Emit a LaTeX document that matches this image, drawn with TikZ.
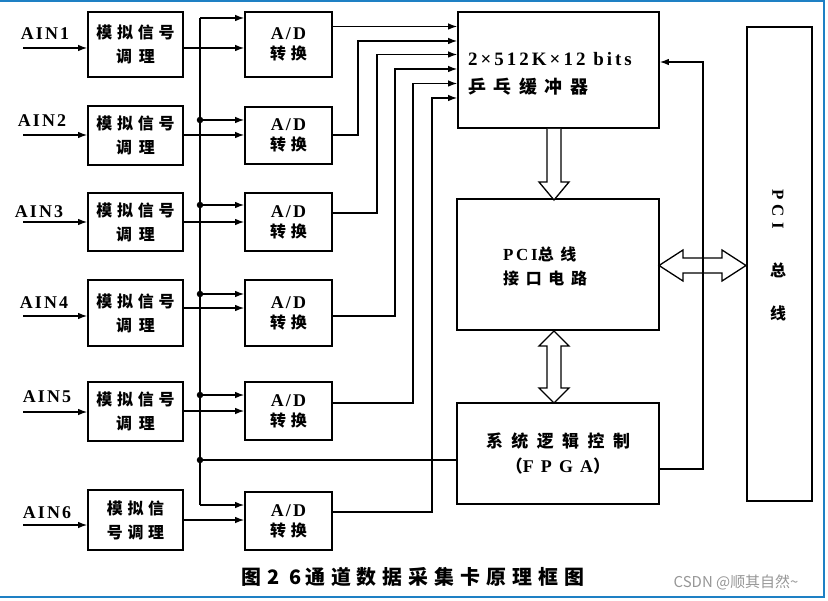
\documentclass[tikz,border=0pt]{standalone}
\usepackage{fontspec}
\setmainfont{Liberation Serif}
\newfontfamily\zhfont[LetterSpace=30]{Noto Sans CJK SC}
\newfontfamily\zhmid[LetterSpace=42]{Noto Sans CJK SC}
\newfontfamily\zhwide[LetterSpace=50]{Noto Sans CJK SC}
\newfontfamily\zhplain{Noto Sans CJK SC}
\newfontfamily\latsp[LetterSpace=12]{Liberation Serif}
\newfontfamily\latwide[LetterSpace=16]{Liberation Serif}
\usetikzlibrary{arrows.meta}
\definecolor{frameblue}{RGB}{30,128,196}
\definecolor{wmgray}{RGB}{150,150,150}
\newcommand\latA{\latsp\bfseries\fontsize{18}{20}\selectfont}
\begin{document}
\begin{tikzpicture}[x=1bp,y=-1bp,
  box/.style={draw,line width=1.6bp,inner sep=0pt,align=center,
    font=\zhfont\bfseries\fontsize{16}{24}\selectfont},
  adbox/.style={box,minimum width=87bp,font=\zhfont\bfseries\fontsize{16}{20}\selectfont},
  sigbox/.style={box,minimum width=95bp},
  bigbox/.style={box,minimum width=202bp},
  ln/.style={line width=1.3bp},
  arr/.style={ln,-{Latex[length=9bp,width=6.5bp]}},
  hollow/.style={draw,line width=1.3bp,fill=white,line join=miter},
  jdot/.style={circle,fill,inner sep=0pt,minimum size=6.5bp},
  lab/.style={font=\latsp\bfseries\fontsize{18}{20}\selectfont,inner sep=0pt}]
\useasboundingbox (0,0) rectangle (828,601);
% frame
\draw[frameblue,line width=2bp] (0,1) -- (824,1) -- (824,597) -- (0,597);

% signal conditioning boxes
\node[sigbox,minimum height=65bp] (s1) at (135.5,44.5) {模拟信号\\调\hspace{7bp}理};
\node[sigbox,minimum height=59bp] (s2) at (135.5,135.5) {模拟信号\\调\hspace{7bp}理};
\node[sigbox,minimum height=58bp] (s3) at (135.5,222) {模拟信号\\调\hspace{7bp}理};
\node[sigbox,minimum height=66bp] (s4) at (135.5,313) {模拟信号\\调\hspace{7bp}理};
\node[sigbox,minimum height=59bp] (s5) at (135.5,411.5) {模拟信号\\调\hspace{7bp}理};
\node[sigbox,minimum height=60bp] (s6) at (135.5,520) {模拟信\\号调理};

% A/D boxes
\node[adbox,minimum height=65bp] (a1) at (288.5,44.5) {{\latA A/D}\\转换};
\node[adbox,minimum height=57bp] (a2) at (288.5,135.5) {{\latA A/D}\\转换};
\node[adbox,minimum height=58bp] (a3) at (288.5,222) {{\latA A/D}\\转换};
\node[adbox,minimum height=66bp] (a4) at (288.5,313) {{\latA A/D}\\转换};
\node[adbox,minimum height=58bp] (a5) at (288.5,411) {{\latA A/D}\\转换};
\node[adbox,minimum height=58bp] (a6) at (288.5,521) {{\latA A/D}\\转换};

% big boxes
\node[bigbox,minimum width=201bp,minimum height=116bp] (buf) at (558.5,70) {};
\node[anchor=west,inner sep=0pt,align=left,font=\zhmid\bfseries\fontsize{18}{28}\selectfont] (buft) at (468,74)
  {{\latwide\bfseries\fontsize{19}{28}\selectfont 2×512K×12 bits}\\乒乓缓冲器};
\node[bigbox,minimum height=131bp] (pci) at (558,264.5) {};
\node[anchor=west,inner sep=0pt,align=left,font=\zhmid\bfseries\fontsize{16}{24}\selectfont] (pcit) at (503,266.5)
  {{\latwide\bfseries\fontsize{17}{24}\selectfont PCI}总线\\接口电路};
\node[bigbox,minimum height=101bp,font=\zhwide\bfseries\fontsize{17}{26}\selectfont] (fpga) at (558,453.5)
  {系统逻辑控制\\（{\latsp\bfseries\fontsize{18}{26}\selectfont\addfontfeature{LetterSpace=40}FPGA}）};
\node[box,minimum width=65bp,minimum height=474bp] (bus) at (779.5,264) {};
\node[rotate=-90,inner sep=0pt,font=\latsp\bfseries\fontsize{17}{20}\selectfont\addfontfeature{LetterSpace=30}] (bpci) at (778,209) {PCI};
\node[inner sep=0pt,font=\zhplain\bfseries\fontsize{16}{20}\selectfont] (bzong) at (778,270) {总};
\node[inner sep=0pt,font=\zhplain\bfseries\fontsize{16}{20}\selectfont] (bxian) at (778,313) {线};

% input labels
\node[lab] (l1) at (45,34) {AIN1};
\node[lab] (l2) at (42,121) {AIN2};
\node[lab] (l3) at (39,212) {AIN3};
\node[lab] (l4) at (44,303) {AIN4};
\node[lab] (l5) at (47,397) {AIN5};
\node[lab] (l6) at (47,513) {AIN6};

% input arrow starts
\coordinate (i1) at (23,48);
\coordinate (i2) at (23,135);
\coordinate (i3) at (23,222);
\coordinate (i4) at (23,316);
\coordinate (i5) at (23,412);
\coordinate (i6) at (23,525);
\foreach \k in {1,...,6}{\draw[arr] (i\k) -- (s\k.west |- i\k);}

% conditioned signal levels
\coordinate (c1) at (0,48);
\coordinate (c2) at (0,135);
\coordinate (c3) at (0,222);
\coordinate (c4) at (0,308);
\coordinate (c5) at (0,411);
\coordinate (c6) at (0,520);
\foreach \k in {1,...,6}{\draw[arr] (s\k.east |- c\k) -- (a\k.west |- c\k);}

% control bus
\coordinate (bt) at (200,18);
\coordinate (j2) at (200,120);
\coordinate (j3) at (200,205);
\coordinate (j4) at (200,294);
\coordinate (j5) at (200,395);
\coordinate (j6) at (200,460);
\coordinate (bb) at (200,505);
\draw[ln] (bt) -- (bb);
\draw[arr] (bt) -- (a1.west |- bt);
\foreach \k in {2,...,5}{\draw[arr] (j\k) -- (a\k.west |- j\k); \node[jdot] (d\k) at (j\k) {};}
\draw[arr] (bb) -- (a6.west |- bb);
\node[jdot] (d6) at (j6) {};
\draw[ln] (j6) -- (fpga.west |- j6);

% A/D outputs to buffer
\coordinate (o1) at (0,26.5);
\draw[arr] (a1.east |- o1) -- (buf.west |- o1);
\coordinate (p2a) at (358,135);  \coordinate (p2b) at (358,41);
\coordinate (p3a) at (377,213);  \coordinate (p3b) at (377,54.5);
\coordinate (p4a) at (395,316);  \coordinate (p4b) at (395,69);
\coordinate (p5a) at (413,403);  \coordinate (p5b) at (413,83.5);
\coordinate (p6a) at (432,512);  \coordinate (p6b) at (432,98);
\foreach \k in {2,...,6}{\draw[arr] (a\k.east |- p\k a) -- (p\k a) -- (p\k b) -- (buf.west |- p\k b);}

% hollow arrows
\draw[hollow] (547,129) -- (547,182) -- (539,182) -- (554,200) -- (569,182) -- (561,182) -- (561,129);
\draw[hollow] (659,265.5) -- (683,250) -- (683,258) -- (722,258) -- (722,250) -- (746,265.5)
  -- (722,281) -- (722,273) -- (683,273) -- (683,281) -- cycle;
\draw[hollow] (554,331) -- (569,346) -- (561,346) -- (561,388) -- (569,388) -- (554,403)
  -- (539,388) -- (547,388) -- (547,346) -- (539,346) -- cycle;

% feedback from FPGA to buffer
\coordinate (f1) at (703,469);
\coordinate (f2) at (703,62);
\draw[arr] (fpga.east |- f1) -- (f1) -- (f2) -- (buf.east |- f2);

% caption
\node[font=\zhfont\bfseries\fontsize{20}{22}\selectfont,inner sep=0pt] (cap) at (413,577)
  {图\hspace{6bp}2\hspace{10bp}6\hspace{3bp}通道数据采集卡原理框图};
\node[font=\zhplain\fontsize{15}{18}\selectfont,text=wmgray,inner sep=0pt] (wm) at (736,582) {CSDN @顺其自然\textasciitilde};
\end{tikzpicture}
\end{document}
